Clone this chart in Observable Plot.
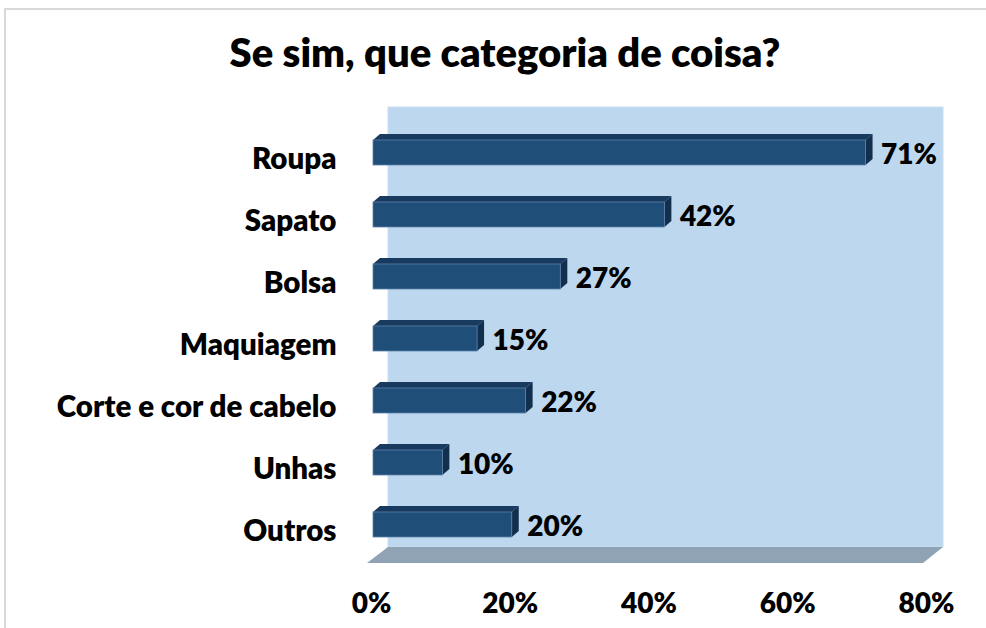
<!DOCTYPE html>
<html>
<head>
<meta charset="utf-8">
<script src="https://cdn.jsdelivr.net/npm/d3@7"></script>
<script src="https://cdn.jsdelivr.net/npm/@observablehq/plot@0.6"></script>
<style>
  html, body { margin: 0; padding: 0; background: #fff; }
  #wrap { position: relative; width: 986px; height: 628px; overflow: hidden; }
  #border { position: absolute; left: 4px; top: 8px; width: 1200px; height: 700px; border-left: 2px solid #d9d9d9; border-top: 2px solid #d9d9d9; box-sizing: border-box; }
  #title { position: absolute; left: 0; width: 1010px; top: 27px; text-align: center; font-family: Lato, sans-serif; font-weight: 800; font-size: 40px; color: #000; line-height: 50px; }
  #chart { position: absolute; left: 0; top: 0; }
</style>
</head>
<body>
<div id="wrap">
  <div id="border"></div>
  <div id="title">Se sim, que categoria de coisa?</div>
  <div id="chart"></div>
</div>
<script>
const categories = ["Roupa", "Sapato", "Bolsa", "Maquiagem", "Corte e cor de cabelo", "Unhas", "Outros"];
const values = [71, 42, 27, 15, 22, 10, 20];
const xTicks = [0, 20, 40, 60, 80];
const tickLabels = ["0%", "20%", "40%", "60%", "80%"];

const data = categories.map((c, i) => ({category: c, value: values[i]}));
const ticks = xTicks.map((t, i) => ({t, label: tickLabels[i]}));

const FONT = "Lato, sans-serif";
const DX = 7, DY = -6; // bar depth

function backdrop(index, scales, values, dims) {
  const sx = scales.x;
  const x0 = sx(0), x1 = sx(80);
  const yBack = dims.height - dims.marginBottom - 30; // wall bottom
  const g = d3.create("svg:g");
  g.append("rect")
    .attr("x", x0 + 15).attr("y", dims.marginTop + 8)
    .attr("width", x1 - x0).attr("height", yBack - dims.marginTop - 8)
    .attr("fill", "#BDD7EE").attr("stroke", "#c9def1").attr("stroke-width", 1);
  const pts = [[x0 - 6, yBack + 16], [x0 + 15, yBack], [x1 + 15, yBack], [x1 - 5, yBack + 16]];
  g.append("polygon").attr("points", pts.map(p => p.join(",")).join(" "))
    .attr("fill", "#8FA3B5");
  return g.node();
}

function faces(index, scales) {
  const sx = scales.x, sy = scales.y;
  const bw = typeof sy.bandwidth === "function" ? sy.bandwidth() : 25;
  const g = d3.create("svg:g");
  for (const d of data) {
    const a = sx(0), b = sx(d.value);
    const yt = sy(d.category), yb = yt + bw;
    const top = [[a, yt], [a + DX, yt + DY], [b + DX, yt + DY], [b, yt]];
    const side = [[b, yt], [b + DX, yt + DY], [b + DX, yb + DY], [b, yb]];
    g.append("polygon").attr("points", top.map(p => p.join(",")).join(" ")).attr("fill", "#183A5F");
    g.append("polygon").attr("points", side.map(p => p.join(",")).join(" ")).attr("fill", "#132F4E");
  }
  return g.node();
}

const chart = Plot.plot({
  width: 986,
  height: 628,
  marginLeft: 373,
  marginRight: 58,
  marginTop: 99,
  marginBottom: 51,
  x: {domain: [0, 80], axis: null},
  y: {domain: categories, padding: 0.6, axis: null},
  style: {background: "transparent", overflow: "visible"},
  marks: [
    backdrop,
    faces,
    Plot.barX(data, {x1: 0, x2: "value", y: "category", fill: "#1F4E79", stroke: "#5E82AA", strokeWidth: 0.8}),
    Plot.text(data, {x: 0, y: "category", text: "category", textAnchor: "end", dx: -37, dy: 7,
      fontSize: 29.5, fontWeight: 800, fontFamily: FONT, fill: "#000"}),
    Plot.text(data, {x: "value", y: "category", text: d => d.value + "%", textAnchor: "start", dx: 15, dy: 2,
      fontSize: 28, fontWeight: 800, fontFamily: FONT, fill: "#000"}),
    Plot.text(ticks, {x: "t", frameAnchor: "bottom", text: "label", dy: 35, dx: -2,
      fontSize: 28, fontWeight: 800, fontFamily: FONT, fill: "#000"})
  ]
});
document.getElementById("chart").appendChild(chart);
</script>
</body>
</html>
